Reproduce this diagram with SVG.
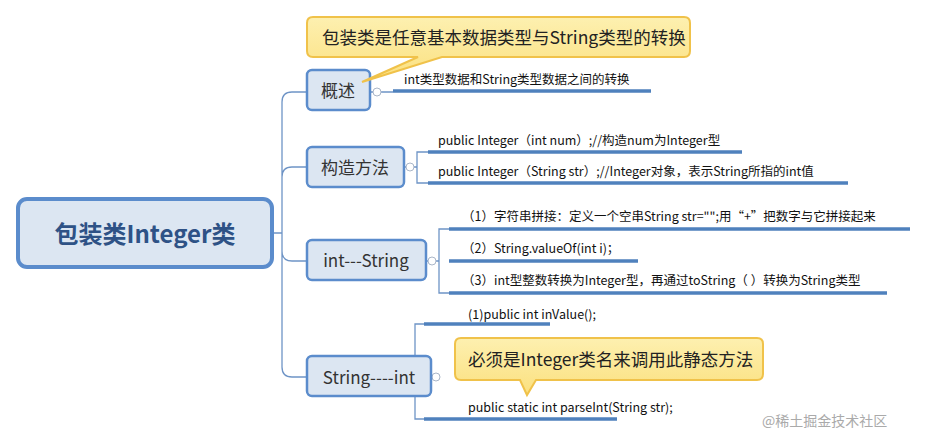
<svg xmlns="http://www.w3.org/2000/svg" width="928" height="437" viewBox="0 0 928 437">
<defs>
<linearGradient id="yg" x1="0" y1="0" x2="0" y2="1"><stop offset="0" stop-color="#fdf0b0"/><stop offset="1" stop-color="#fbe07e"/></linearGradient>
<style>
.n{fill:#dce6f2;stroke:#5b8ccc;stroke-width:2.5}
.nt{font-family:"Noto Sans CJK SC","Noto Sans",sans-serif;font-size:17px;fill:#333;text-anchor:middle}
.lt{font-family:"Noto Sans CJK SC","Noto Sans",sans-serif;font-size:12.5px;fill:#111}
.c{fill:none;stroke:#6e94c6;stroke-width:1.3}
.u{stroke:#4f81bd;stroke-width:3.5}
.o{fill:#fff;stroke:#aab6c8;stroke-width:1}
.cb{fill:url(#yg);stroke:#f0c24a;stroke-width:2}
.ct{font-family:"Noto Sans CJK SC","Noto Sans",sans-serif;font-size:17.5px;fill:#222}
</style>
</defs>
<rect width="928" height="437" fill="#fff"/>
<g id="connectors">
<path class="c" d="M272 233H282M292 92Q282 92 282 102V367Q282 377 292 377H307M282 177Q282 167 292 167H307M282 251Q282 261 292 261H307M292 92H307"/>
<path class="c" d="M370 92H393M404 167H417M428 152H417V183H428M426 261H439M449 229H439V293H449M431 377H415M424 324H415V419H424"/>
<g class="u"><line x1="393" y1="91" x2="651" y2="91"/><line x1="428" y1="152" x2="742" y2="152"/><line x1="428" y1="183" x2="848" y2="183"/><line x1="449" y1="229" x2="910" y2="229"/><line x1="449" y1="261" x2="638" y2="261"/><line x1="449" y1="293" x2="887" y2="293"/><line x1="424" y1="324" x2="550" y2="324"/><line x1="424" y1="419" x2="617" y2="419"/></g>
<circle class="o" cx="377" cy="92" r="4"/><circle class="o" cx="410" cy="167" r="4"/><circle class="o" cx="432" cy="261" r="4"/><circle class="o" cx="436" cy="377" r="4"/>
</g>
<g id="root"><rect x="18" y="199" width="254" height="68" rx="9" fill="#dce6f2" stroke="#5b8ccc" stroke-width="4"/><text x="145" y="243" text-anchor="middle" font-family="Noto Sans CJK SC,Noto Sans,sans-serif" font-size="24" font-weight="bold" fill="#2e5286">包装类Integer类</text></g>
<g id="n1"><rect class="n" x="307" y="70" width="63" height="40" rx="5"/><text class="nt" x="338" y="97">概述</text></g>
<g id="n2"><rect class="n" x="307" y="147" width="97" height="40" rx="5"/><text class="nt" x="355" y="174">构造方法</text></g>
<g id="n3"><rect class="n" x="307" y="240" width="119" height="40" rx="5"/><text class="nt" x="366" y="267">int---String</text></g>
<g id="n4"><rect class="n" x="307" y="356" width="124" height="40" rx="5"/><text class="nt" x="369" y="384">String----int</text></g>
<g id="leaves">
<text class="lt" x="404" y="84">int类型数据和String类型数据之间的转换</text>
<text class="lt" x="438" y="145">public Integer（int num）;//构造num为Integer型</text>
<text class="lt" x="438" y="176">public Integer（String str）;//Integer对象，表示String所指的int值</text>
<text class="lt" x="462" y="221">（1）字符串拼接：定义一个空串String str="";用“+”把数字与它拼接起来</text>
<text class="lt" x="462" y="253">（2）String.valueOf(int i)；</text>
<text class="lt" x="462" y="285">（3）int型整数转换为Integer型，再通过toString（ ）转换为String类型</text>
<text class="lt" x="468" y="319" font-size="12">(1)public int inValue();</text>
<text class="lt" x="468" y="412" font-size="12">public static int parseInt(String str);</text>
</g>
<g id="callout1"><path class="cb" d="M313 17H684Q690 17 690 23V51Q690 57 684 57H442L362 82L418 57H313Q307 57 307 51V23Q307 17 313 17Z"/><text class="ct" x="322" y="44">包装类是任意基本数据类型与String类型的转换</text></g>
<g id="callout2"><path class="cb" d="M461 338H757Q763 338 763 344V374Q763 380 757 380H536L527 395L520 380H461Q455 380 455 374V344Q455 338 461 338Z"/><text class="ct" x="468" y="366" font-size="17">必须是Integer类名来调用此静态方法</text></g>
<text x="762" y="426" font-family="Noto Sans CJK SC,sans-serif" font-size="14" fill="#aaa">@稀土掘金技术社区</text>
</svg>
